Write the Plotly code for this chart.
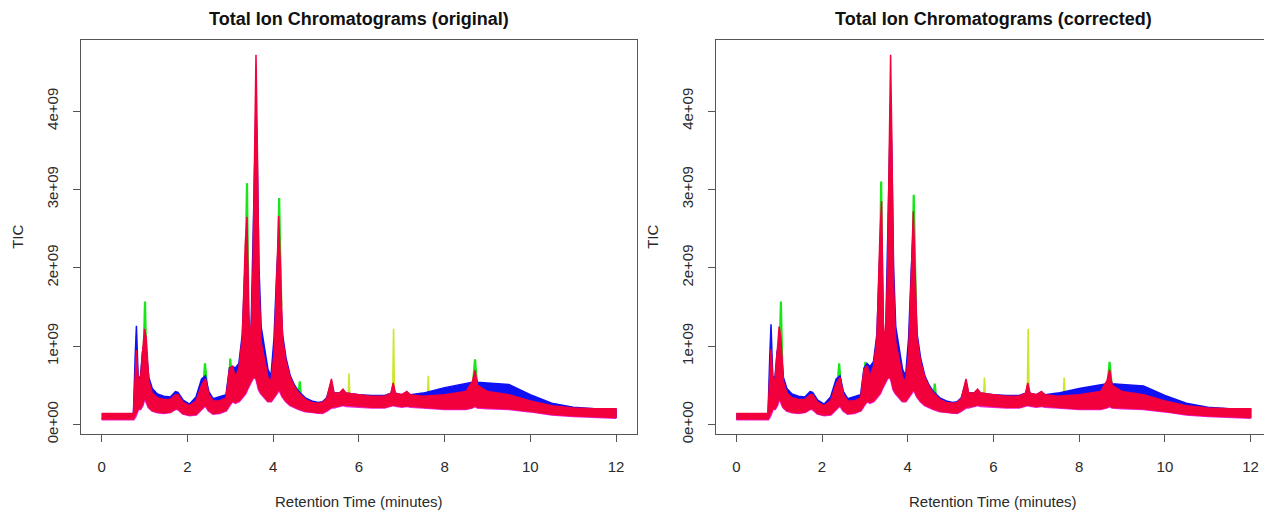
import plotly.graph_objects as go

# ---------------------------------------------------------------------------
# Total ion chromatograms, before and after retention-time correction.
# Intensities are stored in units of 1e9 counts.
# Each sample group is summarised as an envelope (upper / lower TIC) on a
# common retention-time grid; sharp single-sample spikes are listed apart.
# ---------------------------------------------------------------------------

rt = [0.00, 0.74, 0.78, 0.81, 0.85, 0.90, 0.95, 1.00, 1.04, 1.10,
      1.18, 1.30, 1.45, 1.60, 1.72, 1.78, 1.90, 2.05, 2.20, 2.33,
      2.42, 2.50, 2.60, 2.75, 2.90, 2.98, 3.05, 3.12, 3.20, 3.28,
      3.35, 3.39, 3.43, 3.48, 3.53, 3.57, 3.60, 3.63, 3.67, 3.72,
      3.80, 3.88, 3.95, 4.02, 4.08, 4.13, 4.17, 4.22, 4.30, 4.40,
      4.50, 4.60, 4.75, 4.90, 5.05, 5.15, 5.25, 5.36, 5.42, 5.55,
      5.63, 5.70, 6.00, 6.30, 6.60, 6.75, 6.80, 6.85, 7.00, 7.12,
      7.20, 7.50, 8.00, 8.50, 8.65, 8.71, 8.77, 9.00, 9.50, 10.00,
      10.50, 11.00, 11.50, 12.00]

# ---- original (uncorrected) ------------------------------------------------
orig_red_hi = [0.14, 0.14, 0.60, 0.95, 0.60, 0.55, 0.90, 1.22, 1.10, 0.55,
               0.40, 0.34, 0.32, 0.32, 0.38, 0.38, 0.28, 0.24, 0.30, 0.50,
               0.58, 0.38, 0.30, 0.30, 0.34, 0.70, 0.75, 0.60, 0.72, 1.10,
               2.30, 2.65, 1.40, 1.05, 2.00, 3.80, 4.72, 3.60, 1.80, 1.05,
               0.80, 0.60, 0.55, 0.90, 1.80, 2.66, 2.00, 1.10, 0.80, 0.60,
               0.48, 0.40, 0.32, 0.28, 0.27, 0.28, 0.33, 0.58, 0.40, 0.40,
               0.45, 0.40, 0.38, 0.36, 0.36, 0.40, 0.53, 0.40, 0.38, 0.42,
               0.38, 0.36, 0.38, 0.42, 0.55, 0.69, 0.50, 0.42, 0.38, 0.30,
               0.24, 0.21, 0.20, 0.20]
orig_red_lo = [0.07, 0.07, 0.10, 0.15, 0.20, 0.20, 0.25, 0.35, 0.30, 0.22,
               0.18, 0.16, 0.15, 0.16, 0.20, 0.20, 0.14, 0.12, 0.13, 0.20,
               0.25, 0.18, 0.14, 0.15, 0.18, 0.25, 0.30, 0.28, 0.30, 0.35,
               0.40, 0.45, 0.50, 0.55, 0.60, 0.60, 0.60, 0.55, 0.45, 0.40,
               0.35, 0.30, 0.30, 0.35, 0.40, 0.45, 0.42, 0.36, 0.30, 0.25,
               0.22, 0.20, 0.17, 0.16, 0.15, 0.15, 0.18, 0.22, 0.22, 0.24,
               0.25, 0.24, 0.23, 0.22, 0.22, 0.24, 0.25, 0.24, 0.23, 0.24,
               0.23, 0.22, 0.20, 0.20, 0.22, 0.24, 0.22, 0.21, 0.20, 0.17,
               0.13, 0.11, 0.10, 0.09]
orig_blue_hi = [0.13, 0.13, 0.85, 1.26, 0.62, 0.58, 0.92, 1.05, 0.95, 0.60,
                0.46, 0.39, 0.36, 0.35, 0.42, 0.41, 0.31, 0.26, 0.35, 0.58,
                0.62, 0.42, 0.33, 0.36, 0.38, 0.72, 0.74, 0.72, 0.78, 1.15,
                2.10, 2.30, 1.30, 1.10, 2.30, 3.60, 4.10, 3.40, 2.00, 1.25,
                0.95, 0.70, 0.62, 1.10, 1.90, 2.40, 1.70, 1.15, 0.85, 0.62,
                0.50, 0.42, 0.34, 0.30, 0.28, 0.29, 0.34, 0.55, 0.40, 0.40,
                0.44, 0.40, 0.38, 0.37, 0.37, 0.40, 0.50, 0.40, 0.38, 0.41,
                0.38, 0.40, 0.47, 0.52, 0.54, 0.60, 0.54, 0.53, 0.51, 0.38,
                0.27, 0.22, 0.20, 0.19]
orig_green_rt = [0.96, 1.01, 1.05, None, 2.36, 2.41, 2.47, None,
                 2.96, 3.00, 3.04, None, 3.33, 3.39, 3.43, None,
                 4.09, 4.14, 4.19, None, 4.58, 4.62, 4.66, None,
                 8.66, 8.71, 8.76]
orig_green_tic = [0.50, 1.57, 0.60, None, 0.40, 0.78, 0.40, None,
                  0.40, 0.84, 0.50, None, 1.20, 3.08, 1.20, None,
                  1.50, 2.89, 1.50, None, 0.30, 0.55, 0.30, None,
                  0.50, 0.83, 0.50]
orig_yellow_rt = [5.75, 5.77, 5.79, None, 6.79, 6.81, 6.83, None,
                  7.60, 7.62, 7.64]
orig_yellow_tic = [0.35, 0.65, 0.35, None, 0.40, 1.22, 0.40, None,
                   0.35, 0.62, 0.35]

# ---- corrected --------------------------------------------------------------
corr_red_hi = [0.14, 0.14, 0.60, 0.96, 0.60, 0.55, 0.90, 1.25, 1.10, 0.55,
               0.40, 0.34, 0.32, 0.32, 0.38, 0.38, 0.28, 0.24, 0.30, 0.52,
               0.60, 0.38, 0.30, 0.30, 0.34, 0.70, 0.75, 0.62, 0.74, 1.10,
               2.40, 2.85, 1.30, 1.00, 2.00, 3.80, 4.72, 3.60, 1.80, 1.05,
               0.80, 0.60, 0.55, 0.90, 1.85, 2.72, 2.00, 1.10, 0.80, 0.60,
               0.48, 0.40, 0.32, 0.28, 0.27, 0.28, 0.33, 0.58, 0.40, 0.40,
               0.45, 0.40, 0.38, 0.36, 0.36, 0.40, 0.53, 0.40, 0.38, 0.42,
               0.38, 0.36, 0.38, 0.42, 0.56, 0.70, 0.50, 0.42, 0.38, 0.30,
               0.24, 0.21, 0.20, 0.20]
corr_red_lo = [0.07, 0.07, 0.10, 0.15, 0.20, 0.20, 0.25, 0.35, 0.30, 0.22,
               0.18, 0.16, 0.15, 0.16, 0.20, 0.20, 0.14, 0.12, 0.13, 0.20,
               0.25, 0.18, 0.14, 0.15, 0.18, 0.25, 0.30, 0.28, 0.30, 0.35,
               0.40, 0.45, 0.50, 0.55, 0.60, 0.60, 0.60, 0.55, 0.45, 0.40,
               0.35, 0.30, 0.30, 0.35, 0.40, 0.45, 0.42, 0.36, 0.30, 0.25,
               0.22, 0.20, 0.17, 0.16, 0.15, 0.15, 0.18, 0.22, 0.22, 0.24,
               0.25, 0.24, 0.23, 0.22, 0.22, 0.24, 0.25, 0.24, 0.23, 0.24,
               0.23, 0.22, 0.20, 0.20, 0.22, 0.24, 0.22, 0.21, 0.20, 0.17,
               0.13, 0.11, 0.10, 0.09]
corr_blue_hi = [0.13, 0.13, 0.85, 1.28, 0.62, 0.58, 0.92, 1.05, 0.95, 0.60,
                0.46, 0.39, 0.36, 0.35, 0.42, 0.41, 0.31, 0.26, 0.35, 0.58,
                0.62, 0.42, 0.33, 0.36, 0.38, 0.72, 0.78, 0.74, 0.80, 1.15,
                2.20, 2.40, 1.20, 1.05, 2.30, 3.60, 4.10, 3.40, 2.00, 1.25,
                0.95, 0.70, 0.62, 1.10, 1.95, 2.50, 1.70, 1.15, 0.85, 0.62,
                0.50, 0.42, 0.34, 0.30, 0.28, 0.29, 0.34, 0.55, 0.40, 0.40,
                0.44, 0.40, 0.38, 0.37, 0.37, 0.40, 0.50, 0.40, 0.38, 0.41,
                0.38, 0.40, 0.46, 0.50, 0.52, 0.58, 0.52, 0.51, 0.49, 0.37,
                0.27, 0.22, 0.20, 0.19]
corr_green_rt = [0.99, 1.04, 1.08, None, 2.35, 2.40, 2.45, None,
                 2.97, 3.01, 3.05, None, 3.33, 3.38, 3.42, None,
                 4.09, 4.14, 4.19, None, 4.59, 4.63, 4.67, None,
                 8.66, 8.71, 8.76]
corr_green_tic = [0.50, 1.57, 0.60, None, 0.40, 0.78, 0.40, None,
                  0.40, 0.80, 0.50, None, 1.20, 3.10, 1.20, None,
                  1.50, 2.93, 1.50, None, 0.30, 0.52, 0.30, None,
                  0.50, 0.80, 0.50]
corr_yellow_rt = [5.77, 5.79, 5.81, None, 6.79, 6.81, 6.83, None,
                  7.63, 7.65, 7.67]
corr_yellow_tic = [0.35, 0.60, 0.35, None, 0.40, 1.22, 0.40, None,
                   0.35, 0.60, 0.35]

panel_titles = ["Total Ion Chromatograms (original)",
                "Total Ion Chromatograms (corrected)"]
x_ticks = [0, 2, 4, 6, 8, 10, 12]
y_ticks = [0, 1, 2, 3, 4]
y_tick_text = ["0e+00", "1e+09", "2e+09", "3e+09", "4e+09"]

RED = "#f2003c"
BLUE = "#1010f5"
GREEN = "#19e619"
YELLOW = "#cde62a"
MAGENTA = "#f020d8"
FONT = "Liberation Sans, Arial, sans-serif"
INK = "#2a2a2a"
FRAME = "#555555"

W, H = 1264, 515


def band(xs, hi, lo):
    """Closed polygon between an upper and a lower envelope."""
    return list(xs) + list(xs)[::-1], list(hi) + list(lo)[::-1]


fig = go.Figure()

panels = [
    ("x", "y", orig_red_hi, orig_red_lo, orig_blue_hi,
     orig_green_rt, orig_green_tic, orig_yellow_rt, orig_yellow_tic),
    ("x2", "y2", corr_red_hi, corr_red_lo, corr_blue_hi,
     corr_green_rt, corr_green_tic, corr_yellow_rt, corr_yellow_tic),
]

for xa, ya, r_hi, r_lo, b_hi, g_rt, g_tic, y_rt, y_tic in panels:
    fig.add_trace(go.Scatter(x=y_rt, y=y_tic, mode="lines", xaxis=xa, yaxis=ya,
                             line=dict(color=YELLOW, width=1.6),
                             hoverinfo="skip", showlegend=False))
    fig.add_trace(go.Scatter(x=g_rt, y=g_tic, mode="lines", xaxis=xa, yaxis=ya,
                             line=dict(color=GREEN, width=2.2),
                             hoverinfo="skip", showlegend=False))
    bx, by = band(rt, b_hi, r_lo)
    fig.add_trace(go.Scatter(x=bx, y=by, mode="lines", fill="toself",
                             xaxis=xa, yaxis=ya, fillcolor=BLUE,
                             line=dict(color=BLUE, width=1.5),
                             hoverinfo="skip", showlegend=False))
    fig.add_trace(go.Scatter(x=rt, y=r_lo, mode="lines", xaxis=xa, yaxis=ya,
                             line=dict(color=MAGENTA, width=3),
                             hoverinfo="skip", showlegend=False))
    rx, ry = band(rt, r_hi, r_lo)
    fig.add_trace(go.Scatter(x=rx, y=ry, mode="lines", fill="toself",
                             xaxis=xa, yaxis=ya, fillcolor=RED,
                             line=dict(color=RED, width=1.5),
                             hoverinfo="skip", showlegend=False))

# plot-region geometry (pixels)
PX_PER_MIN = 42.86
X0_LEFT = 101.7      # pixel of rt = 0, left panel
X0_RIGHT = 736.3     # pixel of rt = 0, right panel
BOX_TOP, BOX_BOTTOM = 40.7, 441.7
Y_RANGE = [-0.1216, 4.907]
X_PAD = 0.48

left_dom = [(X0_LEFT - X_PAD * PX_PER_MIN) / W,
            (X0_LEFT + (12 + X_PAD) * PX_PER_MIN) / W]
right_lo_px = X0_RIGHT - X_PAD * PX_PER_MIN
right_dom = [right_lo_px / W, 1.0]
right_max = (W - X0_RIGHT) / PX_PER_MIN
y_dom = [(H - BOX_BOTTOM) / H, (H - BOX_TOP) / H]

tick_font = dict(family=FONT, size=15, color=INK)
common_x = dict(tickvals=x_ticks, ticktext=[str(v) for v in x_ticks],
                ticks="outside", ticklen=7, tickwidth=1, tickcolor=FRAME,
                showline=True, linecolor=FRAME, linewidth=1, mirror=True,
                showgrid=False, zeroline=False, tickfont=tick_font,
                ticklabelstandoff=12, fixedrange=True)
common_y = dict(tickvals=y_ticks, ticktext=y_tick_text, tickangle=-90,
                ticks="outside", ticklen=7, tickwidth=1, tickcolor=FRAME,
                showline=True, linecolor=FRAME, linewidth=1,
                showgrid=False, zeroline=False, tickfont=tick_font,
                range=Y_RANGE, domain=y_dom, ticklabelstandoff=9,
                fixedrange=True)

fig.update_layout(
    width=W, height=H,
    margin=dict(l=0, r=0, t=0, b=0),
    paper_bgcolor="white", plot_bgcolor="white",
    showlegend=False,
    xaxis=dict(common_x, domain=left_dom, range=[-X_PAD, 12 + X_PAD],
               anchor="y"),
    yaxis=dict(common_y, anchor="x", mirror=True),
    xaxis2=dict(common_x, domain=right_dom, range=[-X_PAD, right_max],
                anchor="y2"),
    yaxis2=dict(common_y, anchor="x2", mirror=False),
)

# titles and axis labels
left_mid = (X0_LEFT + 6 * PX_PER_MIN) / W
right_mid = (X0_RIGHT + 6 * PX_PER_MIN) / W
for mid, title, lbl_x in [(left_mid, panel_titles[0], 18),
                          (right_mid, panel_titles[1], 653)]:
    fig.add_annotation(x=mid, y=1 - 19 / H, xref="paper", yref="paper",
                       text="<b>" + title + "</b>", showarrow=False,
                       xanchor="center", yanchor="middle",
                       font=dict(family=FONT, size=18, color="#111111"))
    fig.add_annotation(x=mid, y=1 - 510 / H, xref="paper", yref="paper",
                       text="Retention Time (minutes)", showarrow=False,
                       xanchor="center", yanchor="middle",
                       font=dict(family=FONT, size=15, color=INK))
    fig.add_annotation(x=lbl_x / W, y=1 - 241 / H, xref="paper", yref="paper",
                       text="TIC", showarrow=False, textangle=-90,
                       xanchor="center", yanchor="middle",
                       font=dict(family=FONT, size=15, color=INK))

fig.write_html("out.html", config=dict(displayModeBar=False))
